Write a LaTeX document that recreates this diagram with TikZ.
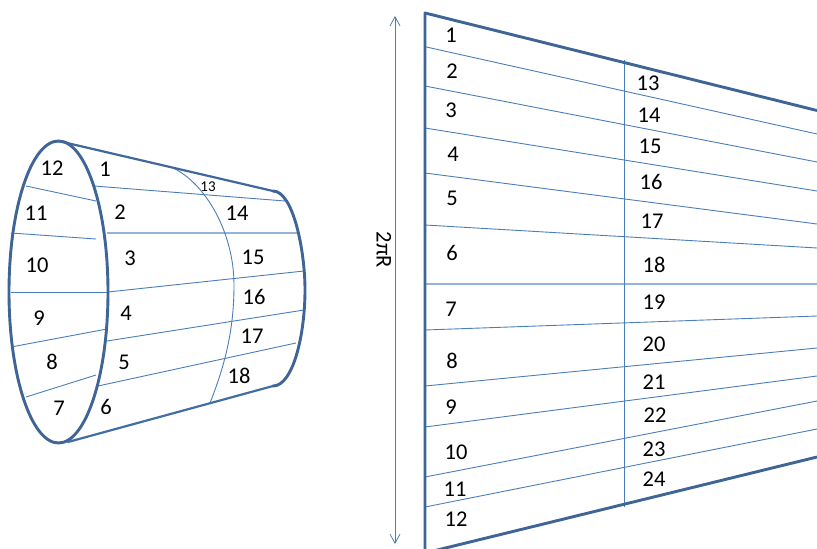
\documentclass[tikz,border=0pt]{standalone}
\usepackage{fontspec}
\setmainfont{Carlito}
\usetikzlibrary{arrows.meta}
\definecolor{thickblue}{HTML}{3F6496}
\definecolor{thinblue}{HTML}{4A7EBB}
\definecolor{lightblue}{HTML}{95B3D7}
\tikzset{
  outline/.style={draw=thickblue,line width=2.9pt,line cap=round,line join=round},
  thinline/.style={draw=thinblue,line width=0.9pt},
  lightline/.style={draw=lightblue,line width=1.6pt},
  lab/.style={font=\fontsize{22.5}{22.5}\selectfont,inner sep=0pt,text=black},
  smalllab/.style={font=\fontsize{15}{15}\selectfont,inner sep=0pt,text=black}
}
\newcommand{\lbl}[3]{\node[lab] (n#3) at (#1,#2) {#3};}
\begin{document}
\begin{tikzpicture}[x=1pt,y=-1pt]
\useasboundingbox (0,0) rectangle (817,549);
\clip (0,0) rectangle (817,549);
% left figure: thin lines
\draw[thinline] (26,186) -- (96,201);
\draw[thinline] (11,233) -- (96,239);
\draw[thinline] (11,292) -- (108,292);
\draw[thinline] (11,347) -- (107,329);
\draw[thinline] (26,397) -- (96,375);
\draw[thinline] (94,186) -- (285,201);
\draw[lightline] (107,233) -- (298,233);
\draw[thinline] (108,292) -- (304,271);
\draw[thinline] (107,341) -- (304,310);
\draw[thinline] (98,386) -- (296,343);
\draw[thinline] (173,168) .. controls (205,183) and (234,232) .. (234,285) .. controls (234,330) and (225,365) .. (210,403);
% left figure: outline
\draw[outline] (58.5,292) ellipse [x radius=49.5,y radius=151];
\draw[outline,line width=2.2pt,draw=thickblue!85!thinblue] (58.5,141) -- (273,191);
\draw[outline,line width=2.2pt,draw=thickblue!60!thinblue] (68,442) -- (273,386);
\draw[outline] (273,191) .. controls (293,191) and (305,250) .. (305,290) .. controls (305,335) and (293,386) .. (273,386);
% left figure: labels
\lbl{52}{168}{12}\lbl{36}{213}{11}\lbl{37}{265}{10}\lbl{39}{318}{9}\lbl{52}{362}{8}\lbl{59}{408}{7}
\lbl{105}{169}{1}\lbl{120}{212}{2}\lbl{130}{258}{3}\lbl{126}{313}{4}\lbl{124}{362}{5}\lbl{106}{407}{6}
\node[smalllab] (s13) at (208,187) {13};
\lbl{237}{213}{14}\lbl{253}{257}{15}\lbl{254}{297}{16}\lbl{252}{336}{17}\lbl{239}{376}{18}
% right figure
\draw[thinline] (425,46.7) -- (817,134);
\draw[thinline] (425,86) -- (817,162);
\draw[thinline] (425,128) -- (817,191);
\draw[thinline] (425,173) -- (817,224);
\draw[thinline] (425,225) -- (817,248);
\draw[lightline] (425,284) -- (817,284);
\draw[thinline] (425,330) -- (817,316);
\draw[thinline] (425,386) -- (817,348);
\draw[thinline] (425,427) -- (817,376);
\draw[thinline] (425,477) -- (817,401);
\draw[thinline] (425,507) -- (817,429);
\draw[thinline] (624.5,60) -- (624.5,507);
\draw[outline,line cap=butt] (817,110.5) -- (425,13) -- (425,560);
\draw[outline,line cap=butt] (425,553) -- (817,457);
% arrow
\coordinate (arrowtop) at (395,16);
\coordinate (arrowbot) at (395,544);
\draw[thinline,{Straight Barb[length=9pt,width=10pt,line width=0.8pt]}-{Straight Barb[length=9pt,width=10pt,line width=0.8pt]}] (arrowtop) -- (arrowbot);
\node[lab,rotate=-90] (rlabel) at (384,250) {2πR};
% right figure: labels
\lbl{451}{35}{1}\lbl{452}{71}{2}\lbl{451}{110}{3}\lbl{453}{154}{4}\lbl{452}{198}{5}\lbl{452}{253}{6}
\lbl{451}{309}{7}\lbl{452}{361}{8}\lbl{451}{407}{9}\lbl{456}{452}{10}\lbl{455}{489}{11}\lbl{456}{519}{12}
\node[lab] (r13) at (648,83) {13};
\node[lab] (r14) at (649,115) {14};
\node[lab] (r15) at (650,146) {15};
\node[lab] (r16) at (651,182) {16};
\node[lab] (r17) at (652,221) {17};
\node[lab] (r18) at (654,265) {18};
\node[lab] (r19) at (654,302) {19};
\node[lab] (r20) at (654,344) {20};
\node[lab] (r21) at (654,382) {21};
\node[lab] (r22) at (655,415) {22};
\node[lab] (r23) at (654,449) {23};
\node[lab] (r24) at (654,479) {24};
\end{tikzpicture}
\end{document}
